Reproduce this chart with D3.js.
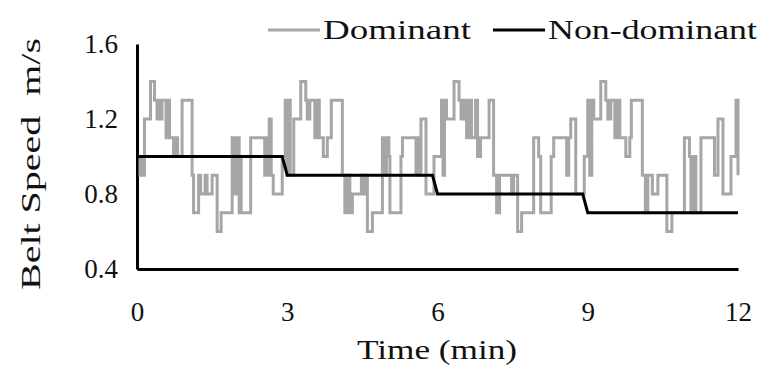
<!DOCTYPE html>
<html>
<head>
<meta charset="utf-8">
<script src="https://cdn.jsdelivr.net/npm/d3@7"></script>
<style>
  body { margin: 0; background: #fff; }
  svg { display: block; font-family: 'Liberation Serif', 'Times New Roman', serif; }
</style>
</head>
<body>
<div id="chart"></div>
<script>
// --- data (minutes, m/s) ---
const xTicks = [0, 3, 6, 9, 12];
const yTicks = [0.4, 0.8, 1.2, 1.6];
const seriesNames = ["Dominant", "Non-dominant"];

// dominant belt, read block by block
const dominantBlock1 = [[0.00,1.0],[0.06,0.9],[0.09,1.0],[0.12,0.9],[0.15,1.2],[0.27,1.4],[0.35,1.3],[0.40,1.2],[0.43,1.3],[0.46,1.2],[0.50,1.3],[0.58,1.1],[0.62,1.3],[0.65,1.1],[0.73,1.0],[0.77,1.1],[0.81,1.0],[0.90,1.3],[1.10,0.9],[1.13,0.7],[1.23,0.9],[1.27,0.8],[1.36,0.9],[1.40,0.8],[1.50,0.9],[1.60,0.6],[1.68,0.7],[1.90,1.1],[1.94,0.8],[1.98,1.1],[2.04,0.7],[2.06,1.0],[2.08,0.7],[2.27,1.1],[2.55,0.9],[2.58,1.1],[2.61,0.9],[2.64,1.2],[2.68,0.9],[2.72,0.8],[2.90,1.0]];
const dominantBlock2 = [[2.96,1.3],[2.99,0.9],[3.02,1.3],[3.06,0.9],[3.13,1.2],[3.27,1.4],[3.37,1.3],[3.40,1.2],[3.45,1.3],[3.55,1.1],[3.60,1.3],[3.64,1.1],[3.72,1.0],[3.80,1.1],[3.88,1.3],[4.10,0.9],[4.15,0.7],[4.20,0.9],[4.25,0.7],[4.30,0.8],[4.48,0.9],[4.52,0.8],[4.56,0.9],[4.60,0.6],[4.70,0.7],[4.90,1.1],[4.94,0.9],[4.98,1.1],[5.03,1.0],[5.05,0.7],[5.27,1.0],[5.30,1.1],[5.57,0.9],[5.60,1.1],[5.63,0.9],[5.67,1.2],[5.77,0.8],[5.93,1.0]];
const dominantBlock3 = [[6.08,1.3],[6.11,0.9],[6.14,1.3],[6.18,1.2],[6.33,1.4],[6.43,1.3],[6.47,1.2],[6.52,1.3],[6.58,1.1],[6.62,1.3],[6.68,1.1],[6.76,1.3],[6.80,1.0],[6.86,1.1],[7.03,1.3],[7.12,0.9],[7.18,0.7],[7.24,0.9],[7.48,0.8],[7.52,0.9],[7.60,0.6],[7.68,0.7],[7.92,1.1],[8.02,1.0],[8.06,0.7],[8.27,1.0],[8.32,1.1],[8.58,0.9],[8.62,1.1],[8.66,1.2],[8.76,0.8],[8.93,1.0]];
const dominantBlock4 = [[9.00,1.3],[9.04,0.9],[9.08,1.3],[9.12,1.2],[9.26,1.4],[9.36,1.3],[9.40,1.2],[9.46,1.3],[9.54,1.1],[9.58,1.3],[9.64,1.1],[9.76,1.0],[9.84,1.1],[9.87,1.3],[10.09,0.9],[10.15,0.7],[10.20,0.9],[10.29,0.8],[10.40,0.9],[10.58,0.6],[10.68,0.7],[10.93,1.1],[11.03,1.0],[11.06,0.7],[11.12,1.0],[11.16,0.7],[11.26,1.1],[11.53,0.9],[11.60,1.2],[11.70,0.8],[11.86,1.0],[11.96,1.3],[12.00,0.9]];

// non-dominant belt: steps down 0.1 every 3 min
const nonDominant = [[0,1.0],[2.9,1.0],[3.0,0.9],[5.9,0.9],[6.0,0.8],[8.9,0.8],[9.0,0.7],[12,0.7]];

const dominant = [].concat(dominantBlock1, dominantBlock2, dominantBlock3, dominantBlock4);

// --- layout ---
const W = 761, H = 367;
const svg = d3.select("#chart").append("svg").attr("width", W).attr("height", H);

const x = d3.scaleLinear().domain([0, 12]).range([137, 738]);
const y = d3.scaleLinear().domain([0.4, 1.6]).range([269, 44]);

const fontSize = 27;
const ink = "#111";

// axes
const yAxis = svg.append("g")
  .attr("transform", `translate(${x(0)},0)`)
  .call(d3.axisLeft(y).tickValues(yTicks).tickSize(0).tickPadding(19).tickFormat(d3.format(".1f")));
const xAxis = svg.append("g")
  .attr("transform", `translate(0,${y(0.4)})`)
  .call(d3.axisBottom(x).tickValues(xTicks).tickSize(0).tickPadding(33));

[xAxis, yAxis].forEach(g => {
  g.select(".domain").attr("stroke", "#000").attr("stroke-width", 3);
  g.selectAll("text").attr("fill", ink).style("font-size", fontSize + "px").style("font-family", "'Liberation Serif', serif");
});

// lines
const line = d3.line().x(d => x(d[0])).y(d => y(d[1])).curve(d3.curveStepAfter);
const straight = d3.line().x(d => x(d[0])).y(d => y(d[1]));

svg.append("path").datum(dominant)
  .attr("d", line).attr("fill", "none")
  .attr("stroke", "#a6a6a6").attr("stroke-width", 3);

svg.append("path").datum(nonDominant)
  .attr("d", straight).attr("fill", "none")
  .attr("stroke", "#000").attr("stroke-width", 3);

// axis titles
svg.append("text")
  .attr("x", 437).attr("y", 359)
  .attr("text-anchor", "middle").attr("fill", ink)
  .attr("textLength", 160).attr("lengthAdjust", "spacingAndGlyphs")
  .style("font-size", fontSize + "px")
  .text("Time (min)");

svg.append("text")
  .attr("transform", "translate(40,164) rotate(-90)")
  .attr("text-anchor", "middle").attr("fill", ink)
  .attr("textLength", 252).attr("lengthAdjust", "spacingAndGlyphs")
  .style("font-size", fontSize + "px")
  .style("white-space", "pre")
  .text("Belt Speed  m/s");

// legend
const legend = [
  { name: seriesNames[0], color: "#a6a6a6", x0: 268, len: 148 },
  { name: seriesNames[1], color: "#000", x0: 493, len: 209 }
];
legend.forEach(l => {
  svg.append("line")
    .attr("x1", l.x0).attr("x2", l.x0 + 52)
    .attr("y1", 30).attr("y2", 30)
    .attr("stroke", l.color).attr("stroke-width", 3);
  svg.append("text")
    .attr("x", l.x0 + 55).attr("y", 39).attr("fill", ink)
    .attr("textLength", l.len).attr("lengthAdjust", "spacingAndGlyphs")
    .style("font-size", fontSize + "px")
    .text(l.name);
});
</script>
</body>
</html>
